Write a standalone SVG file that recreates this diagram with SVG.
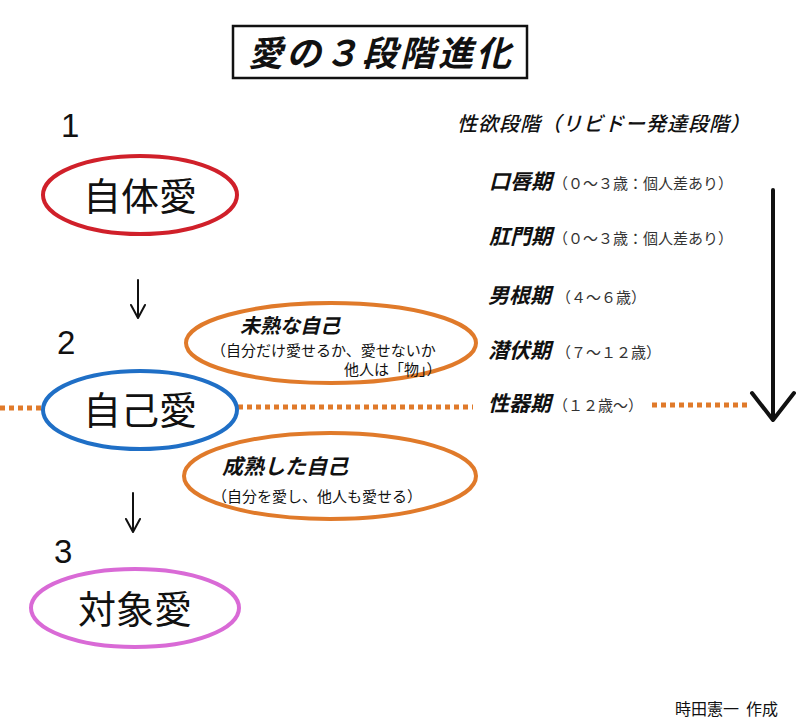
<svg xmlns="http://www.w3.org/2000/svg" width="805" height="725" viewBox="0 0 805 725">
<style>
.jp{font-family:"Noto Sans CJK JP","Noto Sans",sans-serif;fill:#111}
.num{font-family:"Liberation Sans",Arial,sans-serif;font-size:33px;fill:#111}
.big{font-size:38px;text-anchor:middle}
.it{font-style:italic;font-weight:bold}
.stage{font-size:21px;font-style:italic;font-weight:bold}
.age{font-size:15px;fill:#333}
.sub{font-size:15px}
.orange{fill:none;stroke:#e07a2a;stroke-width:4}
.dots{stroke:#e07a2a;stroke-width:5;stroke-dasharray:5 4;fill:none}
.arr{stroke:#111;fill:none;stroke-linecap:round;stroke-linejoin:round}
</style>
<rect width="805" height="725" fill="#fff"/>
<g id="title">
<rect x="233" y="26" width="294" height="52" fill="#fff" stroke="#111" stroke-width="2.5"/>
<text class="jp it" x="381" y="66" font-size="35" text-anchor="middle" letter-spacing="3">愛の３段階進化</text>
</g>
<g id="connectors">
<path class="dots" d="M0 408 H42"/>
<path class="dots" d="M238 407 H473"/>
<path class="dots" d="M652 405 H750"/>
<path class="arr" stroke-width="2" d="M138 280 V317 M131 305 L138 318 L145 305"/>
<path class="arr" stroke-width="2" d="M133 493 V531 M126 519 L133 532 L140 519"/>
<path class="arr" stroke-width="4" d="M773 190 V419 M752 393 L773 420 L794 393"/>
</g>
<g id="n1">
<text class="num" x="61" y="137">1</text>
<ellipse cx="140" cy="195" rx="97" ry="39" fill="none" stroke="#d0202a" stroke-width="4"/>
<text class="jp big" x="140" y="210">自体愛</text>
</g>
<g id="n2">
<text class="num" x="57" y="354">2</text>
<ellipse cx="140" cy="410" rx="97" ry="39" fill="none" stroke="#1f6fc6" stroke-width="4"/>
<text class="jp big" x="140" y="424">自己愛</text>
</g>
<g id="n3">
<text class="num" x="54" y="563">3</text>
<ellipse cx="135" cy="608" rx="104" ry="39" fill="none" stroke="#d96ad6" stroke-width="4"/>
<text class="jp big" x="135" y="623">対象愛</text>
</g>
<g id="immature">
<ellipse class="orange" cx="331" cy="343" rx="145" ry="40"/>
<text class="jp it" x="240" y="333" font-size="20">未熟な自己</text>
<text class="jp sub" x="211" y="356">（自分だけ愛せるか、愛せないか</text>
<text class="jp sub" x="344" y="375">他人は「物」）</text>
</g>
<g id="mature">
<ellipse class="orange" cx="330" cy="476" rx="146" ry="43"/>
<text class="jp it" x="222" y="474" font-size="21">成熟した自己</text>
<text class="jp sub" x="212" y="502">（自分を愛し、他人も愛せる）</text>
</g>
<g id="stages">
<text class="jp" x="457" y="131" font-size="20" font-style="italic" font-weight="500" letter-spacing="1">性欲段階（リビドー発達段階）</text>
<text class="jp stage" x="489" y="189">口唇期</text>
<text class="jp age" x="553" y="189">（０～３歳：個人差あり）</text>
<text class="jp stage" x="489" y="244">肛門期</text>
<text class="jp age" x="553" y="244">（０～３歳：個人差あり）</text>
<text class="jp stage" x="488" y="303">男根期</text>
<text class="jp age" x="556" y="303">（４～６歳）</text>
<text class="jp stage" x="488" y="358">潜伏期</text>
<text class="jp age" x="556" y="358">（７～１２歳）</text>
<text class="jp stage" x="488" y="411">性器期</text>
<text class="jp age" x="553" y="411">（１２歳～）</text>
</g>
<g id="credit">
<text class="jp" x="675" y="715" font-size="16">時田憲一<tspan x="746">作成</tspan></text>
</g>
</svg>
